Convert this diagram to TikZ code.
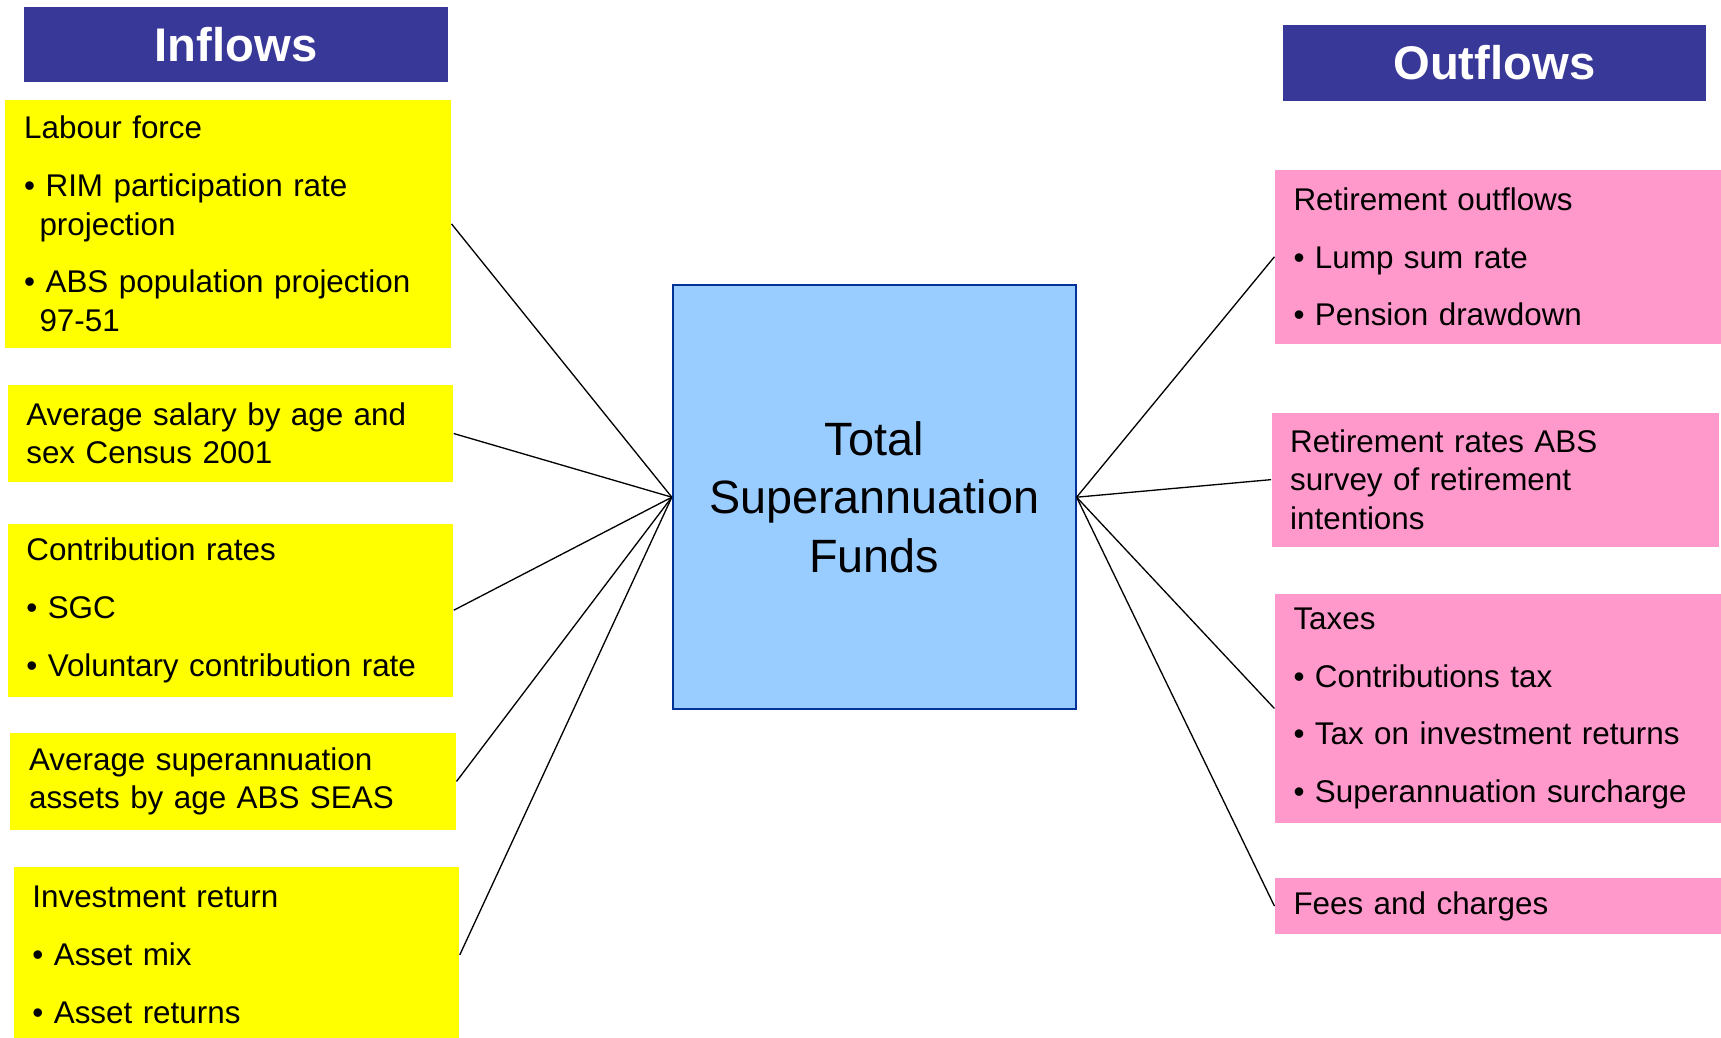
\documentclass[tikz,border=0pt]{standalone}
\usepackage{fontspec}
\setmainfont{Liberation Sans}
\usetikzlibrary{positioning}

\definecolor{headblue}{RGB}{55,56,152}
\definecolor{inyellow}{RGB}{255,255,0}
\definecolor{outpink}{RGB}{255,153,204}
\definecolor{fundblue}{RGB}{153,204,255}
\definecolor{fundedge}{RGB}{0,51,153}

\newcommand{\itm}{\textbullet\ }
\newcommand{\cont}{\hspace*{7pt}}

\begin{document}
\begin{tikzpicture}[x=0.5pt, y=-0.5pt,
            every node/.style={inner ysep=0pt, inner xsep=8.5pt, align=left,
                               font=\fontsize{14.3}{17.5}\selectfont},
            head/.style={fill=headblue, text=white, minimum width=193pt, minimum height=34.5pt,
                         align=center, font=\fontsize{21.5}{25}\selectfont\bfseries},
            inbox/.style={fill=inyellow, text width=186pt, minimum height=#1},
            outbox/.style={fill=outpink, text width=187pt, minimum height=#1},
            link/.style={draw, line width=0.6pt}]
        \useasboundingbox (0,0) rectangle (1568,945);

        % headers
        \node[head] (inhead) at (215,40.5) {Inflows};
        \node[head] (outhead) at (1361.5,57.5) {Outflows};

        % centre
        \node[draw=fundedge, line width=0.9pt, fill=fundblue, minimum width=183.5pt,
              minimum height=193pt, align=center,
              font=\fontsize{21.3}{26.5}\selectfont] (total) at (796.5,453)
              {Total\\Superannuation\\Funds};

        % inflows
        \node[inbox=113pt] (labour) at (208,204)
              {Labour force\\[8.8pt]
               \itm RIM participation rate\\\cont projection\\[8.8pt]
               \itm ABS population projection\\\cont 97-51};
        \node[inbox=44pt] (salary) at (210,395)
              {Average salary by age and\\sex Census 2001};
        \node[inbox=79pt] (contrib) at (210,556)
              {Contribution rates\\[8.8pt]
               \itm SGC\\[8.8pt]
               \itm Voluntary contribution rate};
        \node[inbox=44pt] (assets) at (212.5,712)
              {Average superannuation\\assets by age ABS SEAS};
        \node[inbox=80pt] (invest) at (215.5,870)
              {Investment return\\[8.8pt]
               \itm Asset mix\\[8.8pt]
               \itm Asset returns};

        % outflows
        \node[outbox=79pt] (retout) at (1365.5,234)
              {Retirement outflows\\[8.8pt]
               \itm Lump sum rate\\[8.8pt]
               \itm Pension drawdown};
        \node[outbox=61pt] (retrates) at (1362.5,437)
              {Retirement rates ABS\\survey of retirement\\intentions};
        \node[outbox=104.5pt] (taxes) at (1365.5,645.5)
              {Taxes\\[8.8pt]
               \itm Contributions tax\\[8.8pt]
               \itm Tax on investment returns\\[8.8pt]
               \itm Superannuation surcharge};
        \node[outbox=25.5pt] (fees) at (1365.5,825.5)
              {Fees and charges};

        % links
        \foreach \src in {labour,salary,contrib,assets,invest}
            \draw[link] (\src.east) -- (total.west);
        \foreach \dst in {retout,retrates,taxes,fees}
            \draw[link] (total.east) -- (\dst.west);
\end{tikzpicture}
\end{document}
